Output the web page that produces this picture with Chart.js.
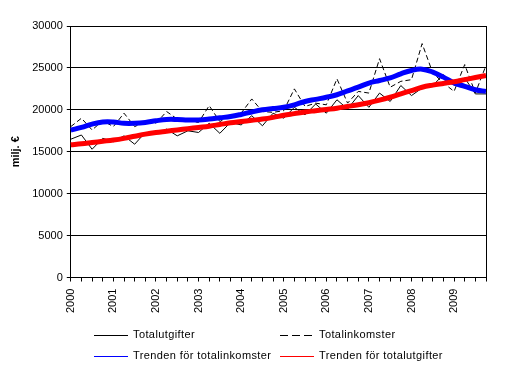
<!DOCTYPE html>
<html>
<head>
<meta charset="utf-8">
<script src="https://cdn.jsdelivr.net/npm/chart.js@4/dist/chart.umd.min.js"></script>
<style>
  html, body { margin: 0; padding: 0; background: #fff; }
  #wrap { position: relative; width: 517px; height: 373px; }
  #legend { position: absolute; left: 0; top: 326px; width: 517px; font: 11px "Liberation Sans", Arial, sans-serif; color: #000; letter-spacing: 0.4px; }
  .item { position: absolute; height: 14px; line-height: 14px; white-space: nowrap; }
  .item span.sw { display: inline-block; width: 34px; height: 1px; vertical-align: middle; margin-right: 5px; }
</style>
</head>
<body>
<div id="wrap">
  <canvas id="chart" width="517" height="373"></canvas>
  <div id="legend">
    <div class="item" style="left:94px; top:1px"><span class="sw" style="background:#000"></span>Totalutgifter</div>
    <div class="item" style="left:280px; top:1px"><span class="sw" style="background:repeating-linear-gradient(90deg,#000 0 8px,transparent 8px 12px)"></span>Totalinkomster</div>
    <div class="item" style="left:94px; top:22px"><span class="sw" style="background:#0000ff"></span>Trenden för totalinkomster</div>
    <div class="item" style="left:280px; top:22px"><span class="sw" style="background:#ff0000"></span>Trenden för totalutgifter</div>
  </div>
</div>
<script>
// quarters 2000 Q1 .. 2009 Q4
const years = ['2000', '2001', '2002', '2003', '2004', '2005', '2006', '2007', '2008', '2009'];
const quarters = [];
years.forEach(y => { for (let q = 1; q <= 4; q++) quarters.push(y + ' Q' + q); });

const totalutgifter = [
  16500, 17000, 15300, 16600, 16200, 16900, 15900, 17300, 17100, 17700,
  16900, 17500, 17300, 18400, 17200, 18500, 18200, 19300, 18100, 19600,
  19000, 20300, 19400, 20700, 19600, 21200, 20100, 21700, 20300, 22000,
  21000, 22900, 21700, 22600, 22900, 24200, 22900, 23800, 21900, 21900
];
const totalinkomster = [
  18000, 19000, 17600, 18700, 18000, 19600, 18000, 18600, 18400, 19800,
  18900, 18700, 18500, 20500, 18600, 19300, 19600, 21300, 19800, 19700,
  19900, 22500, 20400, 20800, 20600, 23700, 20800, 22200, 22000, 26100,
  22700, 23400, 23600, 27900, 24400, 23200, 22200, 25400, 22000, 25300
];
const trendInkomster = [
  17580, 17900, 18300, 18550, 18550, 18400, 18400, 18500, 18700, 18850,
  18850, 18800, 18800, 18900, 19050, 19200, 19450, 19750, 20000, 20150,
  20300, 20600, 21000, 21250, 21500, 21800, 22250, 22700, 23200, 23500,
  23800, 24300, 24700, 24850, 24500, 23900, 23200, 22800, 22400, 22200
];
const trendUtgifter = [
  15830, 15950, 16100, 16250, 16400, 16600, 16850, 17100, 17300, 17450,
  17600, 17750, 17900, 18050, 18250, 18450, 18600, 18750, 18900, 19100,
  19350, 19550, 19750, 19900, 20050, 20200, 20400, 20600, 20850, 21150,
  21500, 21900, 22300, 22700, 22950, 23150, 23350, 23600, 23850, 24100
];

Chart.defaults.font.family = '"Liberation Sans", Arial, sans-serif';
Chart.defaults.font.size = 11;
Chart.defaults.color = '#000';

// right-hand frame line of the plot area
const rightBorder = {
  id: 'rightBorder',
  afterDraw(chart) {
    const a = chart.chartArea, ctx = chart.ctx;
    ctx.save();
    ctx.strokeStyle = '#000';
    ctx.lineWidth = 1;
    ctx.beginPath();
    ctx.moveTo(Math.round(a.right) + 0.5, a.top);
    ctx.lineTo(Math.round(a.right) + 0.5, a.bottom);
    ctx.stroke();
    ctx.restore();
  }
};

new Chart(document.getElementById('chart'), {
  type: 'line',
  data: {
    labels: quarters,
    datasets: [
      { label: 'Totalutgifter', data: totalutgifter, borderColor: '#000', borderWidth: 1, pointRadius: 0, tension: 0, order: 4 },
      { label: 'Totalinkomster', data: totalinkomster, borderColor: '#000', borderWidth: 1, borderDash: [5, 3], pointRadius: 0, tension: 0, order: 3 },
      { label: 'Trenden för totalinkomster', data: trendInkomster, borderColor: '#0000ff', borderWidth: 5, pointRadius: 0, tension: 0.4, order: 2 },
      { label: 'Trenden för totalutgifter', data: trendUtgifter, borderColor: '#ff0000', borderWidth: 5, pointRadius: 0, tension: 0.4, order: 1 }
    ]
  },
  options: {
    responsive: false,
    animation: false,
    layout: { padding: { left: 9, right: 31, top: 26, bottom: 53 } },
    plugins: { legend: { display: false }, tooltip: { enabled: false } },
    scales: {
      x: {
        offset: false,
        grid: { drawOnChartArea: false, drawTicks: true, tickLength: 4, color: '#000' },
        border: { color: '#000' },
        ticks: {
          autoSkip: false,
          maxRotation: 90,
          minRotation: 90,
          padding: 7,
          callback: function(v, i) { return i % 4 === 0 ? quarters[i].slice(0, 4) : ''; }
        }
      },
      y: {
        min: 0,
        max: 30000,
        grid: { color: '#000', tickLength: 4 },
        border: { color: '#000' },
        ticks: { stepSize: 5000, padding: 4, callback: v => String(v) },
        title: { display: true, text: 'milj. €', font: { weight: 'bold', size: 11 }, padding: { top: 0, bottom: 6 } }
      }
    }
  },
  plugins: [rightBorder]
});
</script>
</body>
</html>
